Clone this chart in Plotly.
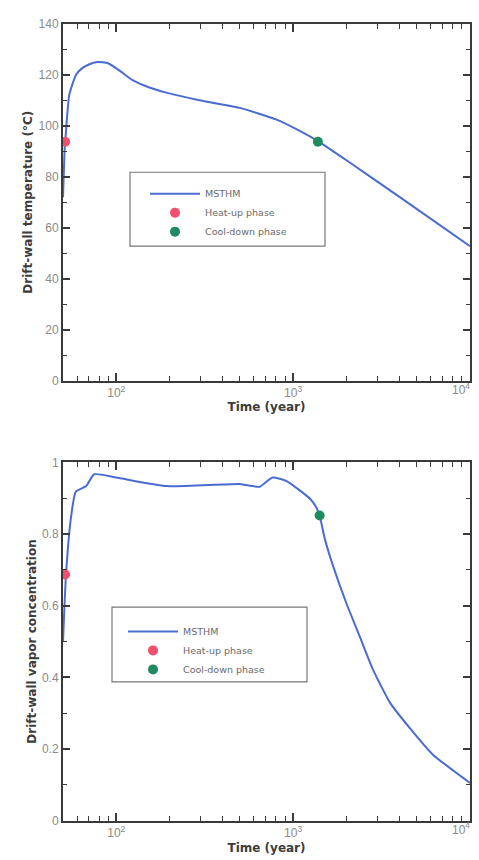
import plotly.graph_objects as go
import numpy as np

# ---- data ----
temp_time = [50, 51, 51.5, 52.5, 54.2, 57, 59.3, 64, 70, 78, 90, 105, 123, 154, 192, 295, 500, 800, 1090, 1380, 2090, 4010, 10000]
temp_vals = [72, 90, 94, 102, 112, 117, 120, 122.5, 124, 125, 124.5, 121.5, 118, 115, 113, 110, 107, 102.5, 98, 94, 85.6, 72, 52.8]
temp_heat_time = [51.4]
temp_heat_vals = [93.7]
temp_cool_time = [1380]
temp_cool_vals = [93.7]

vap_time = [50, 52, 55.6, 59, 67.6, 75, 100, 192, 498, 590, 645, 766, 919, 1090, 1250, 1340, 1412, 1508, 1674, 2010, 2380, 2820, 3520, 4570, 6170, 10000]
vap_vals = [0.5, 0.687, 0.85, 0.918, 0.934, 0.967, 0.958, 0.934, 0.94, 0.934, 0.932, 0.958, 0.948, 0.922, 0.898, 0.878, 0.852, 0.788, 0.714, 0.604, 0.514, 0.423, 0.33, 0.258, 0.184, 0.105]
vap_heat_time = [51.4]
vap_heat_vals = [0.687]
vap_cool_time = [1412]
vap_cool_vals = [0.852]

x_major = [100, 1000, 10000]
x_major_text = ["10<sup>2</sup>", "10<sup>3</sup>", ""]
x_last = [10000]
x_last_text = ["10<sup>4</sup>"]
x_minor = [50, 60, 70, 80, 90, 200, 300, 400, 500, 600, 700, 800, 900,
           2000, 3000, 4000, 5000, 6000, 7000, 8000, 9000]

LINE = "#4a6cd0"
HEAT = "#f04f6e"
COOL = "#1e8c60"
AX = "#3a3a3a"
TICKF = dict(family="Liberation Sans, Arial, sans-serif", size=12, color="#8a8a8a")
TITLEF = dict(family="DejaVu Sans, sans-serif", size=12, color="#3c3c3c")
LEGF = dict(family="DejaVu Sans, sans-serif", size=9.5, color="#6a6a6a")

fig = go.Figure()

fig.add_trace(go.Scatter(x=temp_time, y=temp_vals, mode="lines", name="MSTHM",
                         line=dict(color=LINE, width=2, shape="spline", smoothing=0.5),
                         xaxis="x", yaxis="y", legend="legend"))
fig.add_trace(go.Scatter(x=temp_heat_time, y=temp_heat_vals, mode="markers", name="Heat-up phase",
                         marker=dict(color=HEAT, size=10), xaxis="x", yaxis="y", legend="legend"))
fig.add_trace(go.Scatter(x=temp_cool_time, y=temp_cool_vals, mode="markers", name="Cool-down phase",
                         marker=dict(color=COOL, size=10), xaxis="x", yaxis="y", legend="legend"))

fig.add_trace(go.Scatter(x=vap_time, y=vap_vals, mode="lines", name="MSTHM",
                         line=dict(color=LINE, width=2, shape="spline", smoothing=0.5),
                         xaxis="x2", yaxis="y2", legend="legend2"))
fig.add_trace(go.Scatter(x=vap_heat_time, y=vap_heat_vals, mode="markers", name="Heat-up phase",
                         marker=dict(color=HEAT, size=10), xaxis="x2", yaxis="y2", legend="legend2"))
fig.add_trace(go.Scatter(x=vap_cool_time, y=vap_cool_vals, mode="markers", name="Cool-down phase",
                         marker=dict(color=COOL, size=10), xaxis="x2", yaxis="y2", legend="legend2"))

# empty helper traces so the overlay axes carrying the 10^4 label get drawn
for xa, ya in (("x3", "y"), ("x4", "y2")):
    fig.add_trace(go.Scatter(x=x_last, y=[None], mode="markers", xaxis=xa, yaxis=ya,
                             showlegend=False, hoverinfo="skip", marker=dict(opacity=0)))

xdom = [63 / 479, 470 / 479]
top_dom = [(860 - 380) / 860, (860 - 17) / 860]
bot_dom = [(860 - 827) / 860, (860 - 463) / 860]
XRANGE = [np.log10(50), 4]


def xaxis(anchor, standoff):
    return dict(type="log", range=XRANGE, domain=xdom, anchor=anchor,
                tickvals=x_major, ticktext=x_major_text, ticks="inside", ticklen=8,
                tickwidth=1.5, tickcolor=AX, showline=True, linecolor=AX, linewidth=2,
                mirror="ticks", showgrid=False, zeroline=False, tickfont=TICKF,
                minor=dict(tickvals=x_minor, ticks="inside", ticklen=5, tickcolor=AX, tickwidth=1.2),
                title=dict(text="<b>Time (year)</b>", font=TITLEF, standoff=standoff))


def xlast(anchor, over):
    # carries only the right-edge 10^4 label, nudged left so it stays inside the page
    return dict(type="log", range=XRANGE, domain=xdom, anchor=anchor, overlaying=over,
                side="bottom", tickvals=x_last, ticktext=x_last_text, ticks="",
                showline=False, showgrid=False, zeroline=False, tickfont=TICKF,
                ticklabelshift=-9, ticklabeloverflow="allow")


def yaxis(anchor, dom, rng, dtick, minor_dtick, title, fmt):
    return dict(range=rng, domain=dom, anchor=anchor, dtick=dtick, tick0=0,
                ticks="inside", ticklen=7, tickwidth=1.5, tickcolor=AX,
                showline=True, linecolor=AX, linewidth=2, mirror="ticks",
                showgrid=False, zeroline=False, tickfont=TICKF, tickformat=fmt,
                minor=dict(dtick=minor_dtick, tick0=0, ticks="inside", ticklen=4, tickcolor=AX, tickwidth=1.2),
                title=dict(text="<b>" + title + "</b>", font=TITLEF, standoff=3))


fig.update_layout(
    width=479, height=860, margin=dict(l=0, r=0, t=0, b=0),
    paper_bgcolor="white", plot_bgcolor="white",
    xaxis=xaxis("y", 3),
    yaxis=yaxis("x", top_dom, [0, 140], 20, 10, "Drift-wall temperature (°C)", "d"),
    xaxis2=xaxis("y2", 5),
    yaxis2=yaxis("x2", bot_dom, [0, 1], 0.2, 0.1, "Drift-wall vapor concentration", ""),
    xaxis3=xlast("y", "x"),
    xaxis4=xlast("y2", "x2"),
    legend=dict(x=145 / 479, y=(860 - 175) / 860, xanchor="left", yanchor="top",
                bgcolor="rgba(0,0,0,0)", borderwidth=0, font=LEGF, itemwidth=50),
    legend2=dict(x=123 / 479, y=(860 - 620) / 860, xanchor="left", yanchor="top",
                 bgcolor="rgba(0,0,0,0)", borderwidth=0, font=LEGF, itemwidth=50),
    shapes=[
        dict(type="rect", xref="paper", yref="paper", x0=130 / 479, x1=325 / 479,
             y0=(860 - 243) / 860, y1=(860 - 168) / 860, line=dict(color="#777777", width=1.2)),
        dict(type="rect", xref="paper", yref="paper", x0=112 / 479, x1=307 / 479,
             y0=(860 - 686) / 860, y1=(860 - 610) / 860, line=dict(color="#777777", width=1.2)),
    ],
)

fig.write_html("out.html")
